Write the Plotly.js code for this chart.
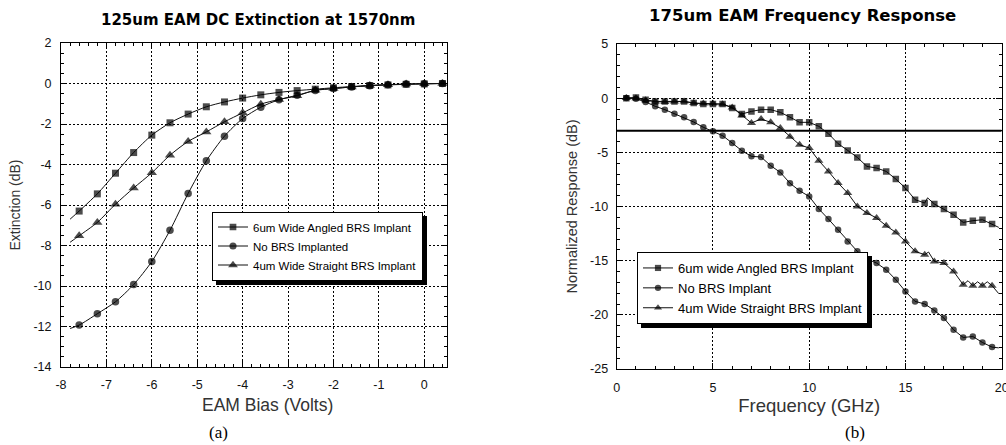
<!DOCTYPE html>
<html><head><meta charset="utf-8">
<script src="https://cdn.plot.ly/plotly-3.0.1.min.js"></script>
<style>html,body{margin:0;padding:0;background:#fff}#chart{width:1006px;height:445px}</style>
</head><body><div id="chart"></div>
<script>
// ---------- Chart (a): DC extinction ----------
const biasVolts = [-7.8, -7.6, -7.2, -6.8, -6.4, -6.0, -5.6, -5.2, -4.8, -4.4, -4.0, -3.6, -3.2, -2.8, -2.4, -2.0, -1.6, -1.2, -0.8, -0.4, 0, 0.4];
const extAngled6um = [-6.70, -6.30, -5.45, -4.43, -3.41, -2.55, -1.94, -1.51, -1.15, -0.91, -0.72, -0.56, -0.44, -0.35, -0.28, -0.21, -0.15, -0.10, -0.07, -0.04, -0.02, 0.0];
const extNoBRS = [-12.10, -11.93, -11.37, -10.78, -9.93, -8.79, -7.25, -5.43, -3.82, -2.60, -1.73, -1.17, -0.80, -0.58, -0.34, -0.25, -0.17, -0.11, -0.06, -0.03, -0.01, 0.0];
const extStraight4um = [-7.84, -7.52, -6.86, -5.96, -5.16, -4.41, -3.54, -2.86, -2.39, -1.89, -1.45, -1.02, -0.79, -0.61, -0.33, -0.25, -0.17, -0.10, -0.06, -0.03, -0.01, 0.0];
const biasUnmarked = [-7.8];

// ---------- Chart (b): frequency response ----------
const freqAngled = [0.5,1,1.5,2,2.5,3,3.5,4,4.5,5,5.5,6,6.5,7,7.5,8,8.5,9,9.5,10,10.5,11,11.5,12,12.5,13,13.5,14,14.5,15,15.5,16,16.15,16.5,17,17.5,18,18.5,19,19.5,19.85];
const respAngled = [0.0,0.07,-0.14,-0.3,-0.3,-0.3,-0.3,-0.45,-0.54,-0.54,-0.54,-0.9,-1.46,-1.22,-1.06,-1.06,-1.31,-1.75,-2.23,-2.23,-2.6,-3.28,-4.2,-4.82,-5.47,-6.3,-6.45,-6.76,-7.47,-8.3,-9.37,-9.68,-9.2,-9.77,-10.23,-10.76,-11.47,-11.31,-11.22,-11.62,-11.93];
const angledUnmarked = [16.15, 19.85];

const freqNoBRS = [0.5,1,1.5,2,2.5,3,3.5,4,4.5,5,5.5,6,6.5,7,7.5,8,8.5,9,9.5,10,10.5,11,11.5,12,12.5,13,13.5,14,14.5,15,15.5,16,16.5,17,17.5,18,18.5,19,19.5,19.85];
const respNoBRS = [0.02,-0.05,-0.35,-0.75,-1.06,-1.43,-1.77,-2.2,-2.69,-3.06,-3.46,-4.14,-4.85,-5.37,-5.43,-6.23,-6.85,-7.85,-8.55,-9.07,-10.23,-11.16,-12.14,-13.22,-14.14,-14.85,-15.22,-15.84,-16.76,-17.84,-18.76,-19.0,-19.59,-20.3,-21.38,-22.09,-22.0,-22.55,-22.98,-23.05];
const noBRSUnmarked = [19.85];

const freqStraight = [0.5,1,1.5,2,2.5,3,3.5,4,4.5,5,5.5,6,6.5,7,7.5,8,8.5,9,9.5,10,10.5,11,11.5,12,12.5,13,13.5,14,14.5,15,15.5,16,16.2,16.5,17,17.5,18,18.25,18.5,18.75,19,19.25,19.5,19.85];
const respStraight = [0.02,0.0,-0.2,-0.33,-0.35,-0.3,-0.3,-0.45,-0.5,-0.5,-0.55,-0.85,-1.6,-2.29,-1.92,-2.23,-2.75,-3.55,-4.3,-4.6,-5.77,-6.76,-7.83,-8.76,-9.99,-10.6,-11.06,-11.78,-12.39,-13.22,-14.14,-14.45,-14.2,-15.07,-15.22,-15.99,-17.22,-16.85,-17.31,-16.95,-17.31,-16.95,-17.31,-18.05];
const straightUnmarked = [16.2, 18.25, 18.75, 19.25, 19.85];

const threshold3dB = -3;

// ---------- tick labels ----------
const leftXTicks = [-8,-7,-6,-5,-4,-3,-2,-1,0];
const leftXLabels = ['-8','-7','-6','-5','-4','-3','-2','-1','0'];
const leftYTicks = [-14,-12,-10,-8,-6,-4,-2,0,2];
const leftYLabels = ['-14','-12','-10','-8','-6','-4','-2','0','2'];
const rightXTicks = [0,5,10,15,20];
const rightXLabels = ['0','5','10','15','20'];
const rightYTicks = [-25,-20,-15,-10,-5,0,5];
const rightYLabels = ['-25','-20','-15','-10','-5','0','5'];

const namesA = ['6um Wide Angled BRS Implant','No BRS Implanted','4um Wide Straight BRS Implant'];
const namesB = ['6um wide Angled BRS Implant','No BRS Implant','4um Wide Straight BRS Implant'];

// ---------- build ----------
const SANS = 'Liberation Sans, Arial, sans-serif';
const WIDE = 'DejaVu Sans, Verdana, sans-serif';
const W = 1006, H = 445;
const pxX = p => p / W, pxY = p => 1 - p / H;

function sizes(xs, hidden, s) { return xs.map(x => hidden.includes(x) ? 0 : s); }
function series(x, y, hidden, name, symbol, size, xa, ya, legend, shape) {
  return {type:'scatter', mode:'lines+markers', x:x, y:y, name:name, xaxis:xa, yaxis:ya, legend:legend,
    line:{color:'#111', width:1, shape:shape, smoothing:0.7},
    marker:{symbol:symbol, color:'#000', size:sizes(x, hidden, size), line:{width:0}}, hoverinfo:'skip'};
}

const data = [
  series(biasVolts, extAngled6um, biasUnmarked, namesA[0], 'square', 7, 'x', 'y', 'legend', 'spline'),
  series(biasVolts, extNoBRS, biasUnmarked, namesA[1], 'circle', 7.5, 'x', 'y', 'legend', 'spline'),
  series(biasVolts, extStraight4um, biasUnmarked, namesA[2], 'triangle-up', 9, 'x', 'y', 'legend', 'spline'),
  series(freqAngled, respAngled, angledUnmarked, namesB[0], 'square', 6.5, 'x2', 'y2', 'legend2', 'linear'),
  series(freqNoBRS, respNoBRS, noBRSUnmarked, namesB[1], 'circle', 6.5, 'x2', 'y2', 'legend2', 'linear'),
  series(freqStraight, respStraight, straightUnmarked, namesB[2], 'triangle-up', 8, 'x2', 'y2', 'legend2', 'linear')
];

const LEG_A = {left:212, mid:246, font:11.5};
const LEG_B = {left:637, mid:288, font:13};

const axBase = {showline:true, linecolor:'#000', linewidth:1, mirror:'allticks', ticks:'inside', ticklen:6,
  tickcolor:'#000', tickwidth:1, showgrid:true, gridcolor:'#000', gridwidth:1, griddash:'2px,2px', zeroline:false,
  tickfont:{family:SANS, size:12.5, color:'#111'}, fixedrange:true, tickmode:'array', automargin:false,
  ticklabeloverflow:'allow'};
const minorBase = {tickmode:'linear', tick0:0, ticks:'inside', ticklen:3, tickcolor:'#000', tickwidth:1, showgrid:false};

const baseShapes = [
  {type:'line', xref:'x2', yref:'y2', x0:0, x1:20, y0:threshold3dB, y1:threshold3dB, line:{color:'#000', width:2}}
];

const layout = {
  width:W, height:H, margin:{l:0, r:0, t:0, b:0, pad:0}, paper_bgcolor:'#fff', plot_bgcolor:'#fff',
  font:{family:SANS, color:'#000'},
  xaxis: Object.assign({}, axBase, {domain:[pxX(61), pxX(447)], range:[-8, 0.5], tickvals:leftXTicks, ticktext:leftXLabels,
    anchor:'y', ticklabelstandoff:6, minor:Object.assign({}, minorBase, {dtick:0.2})}),
  yaxis: Object.assign({}, axBase, {domain:[pxY(367), pxY(43)], range:[-14, 2], tickvals:leftYTicks, ticktext:leftYLabels,
    anchor:'x', ticklabelstandoff:6, minor:Object.assign({}, minorBase, {dtick:0.5}),
    title:{text:'Extinction (dB)', font:{family:SANS, size:14, color:'#333'}, standoff:9}}),
  xaxis2: Object.assign({}, axBase, {domain:[pxX(616.7), pxX(1001.7)], range:[0, 20], tickvals:rightXTicks, ticktext:rightXLabels,
    anchor:'y2', ticklabelstandoff:7, minor:Object.assign({}, minorBase, {dtick:1}),
    title:{text:'Frequency (GHz)', font:{family:SANS, size:18.5, color:'#333'}, standoff:2}}),
  yaxis2: Object.assign({}, axBase, {domain:[pxY(369), pxY(44)], range:[-25, 5], tickvals:rightYTicks, ticktext:rightYLabels,
    anchor:'x2', ticklabelstandoff:5, minor:Object.assign({}, minorBase, {dtick:1}),
    title:{text:'Normalized Response (dB)', font:{family:SANS, size:14.5, color:'#333'}, standoff:9}}),
  legend: {x:pxX(LEG_A.left), y:pxY(LEG_A.mid), xanchor:'left', yanchor:'middle', bgcolor:'#fff', bordercolor:'#000', borderwidth:1,
    font:{family:SANS, size:LEG_A.font, color:'#000'}, tracegroupgap:0, itemclick:false, itemdoubleclick:false},
  legend2: {x:pxX(LEG_B.left), y:pxY(LEG_B.mid), xanchor:'left', yanchor:'middle', bgcolor:'#fff', bordercolor:'#000', borderwidth:1,
    font:{family:SANS, size:LEG_B.font, color:'#000'}, tracegroupgap:0, itemclick:false, itemdoubleclick:false},
  shapes: baseShapes.slice(),
  annotations: [
    {text:'<b>125um EAM DC Extinction at 1570nm</b>', xref:'paper', yref:'paper', x:pxX(258), y:pxY(20), xanchor:'center', yanchor:'middle', showarrow:false, font:{family:WIDE, size:15, color:'#000'}},
    {text:'<b>175um EAM Frequency Response</b>', xref:'paper', yref:'paper', x:pxX(802), y:pxY(16), xanchor:'center', yanchor:'middle', showarrow:false, font:{family:WIDE, size:16.5, color:'#000'}},
    {text:'EAM Bias (Volts)', xref:'paper', yref:'paper', x:pxX(267), y:pxY(405), xanchor:'center', yanchor:'middle', showarrow:false, font:{family:SANS, size:17.5, color:'#333'}},
    {text:'(a)', xref:'paper', yref:'paper', x:pxX(218), y:pxY(432), xanchor:'center', yanchor:'middle', showarrow:false, font:{family:'Liberation Serif, Times New Roman, serif', size:17, color:'#000'}},
    {text:'(b)', xref:'paper', yref:'paper', x:pxX(855), y:pxY(432), xanchor:'center', yanchor:'middle', showarrow:false, font:{family:'Liberation Serif, Times New Roman, serif', size:17, color:'#000'}}
  ],
  showlegend:true
};

const gd = document.getElementById('chart');
Plotly.newPlot(gd, data, layout, {displayModeBar:false, staticPlot:true});

// drop shadows behind the two legend boxes, sized from Plotly's own legend layout
function shadowFor(id) {
  const L = gd._fullLayout && gd._fullLayout[id];
  if (!L || !L._width) return null;
  const h = L._effHeight || L._height;
  const w = L._width;
  const gs = gd._fullLayout._size;
  const left = Math.round(gs.l + gs.w * L.x);
  const top = Math.round(gs.t + gs.h * (1 - L.y) - 0.5 * h);
  const off = 4;
  return {type:'rect', xref:'paper', yref:'paper', layer:'above',
    x0:pxX(left + off), x1:pxX(left + w + off), y0:pxY(top + h + off), y1:pxY(top + off),
    fillcolor:'#000', line:{width:0}};
}
const shadows = ['legend', 'legend2'].map(shadowFor).filter(Boolean);
if (shadows.length) Plotly.relayout(gd, {shapes: baseShapes.concat(shadows)});
</script>
</body></html>
